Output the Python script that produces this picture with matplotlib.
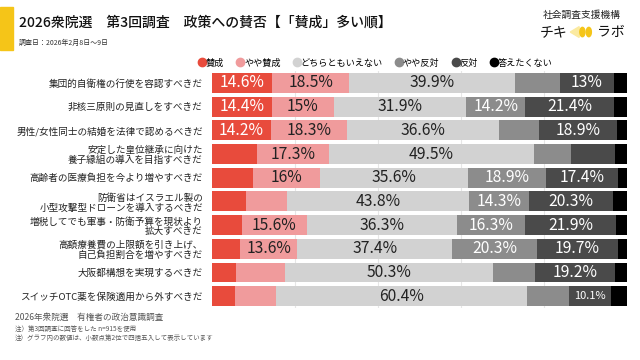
import matplotlib
matplotlib.use('Agg')
import matplotlib.pyplot as plt
from matplotlib.lines import Line2D
from matplotlib.patches import Rectangle, Ellipse, Polygon

plt.rcParams['font.family'] = ['Noto Sans CJK JP', 'DejaVu Sans']

# 政策（上から「賛成」多い順）
policies = [
    '集団的自衛権の行使を容認すべきだ',
    '非核三原則の見直しをすべきだ',
    '男性/女性同士の結婚を法律で認めるべきだ',
    '安定した皇位継承に向けた\n養子縁組の導入を目指すべきだ',
    '高齢者の医療負担を今より増やすべきだ',
    '防衛省はイスラエル製の\n小型攻撃型ドローンを導入するべきだ',
    '増税してでも軍事・防衛予算を現状より\n拡大すべきだ',
    '高額療養費の上限額を引き上げ、\n自己負担割合を増やすべきだ',
    '大阪都構想を実現するべきだ',
    'スイッチOTC薬を保険適用から外すべきだ',
]
categories = ['賛成', 'やや賛成', 'どちらともいえない', 'やや反対', '反対', '答えたくない']

agree = [14.6, 14.4, 14.2, 10.8, 10.0, 8.2, 7.2, 6.9, 5.8, 5.6]
some_agree = [18.5, 15.0, 18.3, 17.3, 16.0, 10.0, 15.6, 13.6, 11.7, 9.8]
neutral = [39.9, 31.9, 36.6, 49.5, 35.6, 43.8, 36.3, 37.4, 50.3, 60.4]
some_disagree = [10.8, 14.2, 9.6, 8.9, 18.9, 14.3, 16.3, 20.3, 10.1, 10.2]
disagree = [13.0, 21.4, 18.9, 10.5, 17.4, 20.3, 21.9, 19.7, 19.2, 10.1]
no_answer = [3.2, 3.1, 2.4, 3.0, 2.1, 3.4, 2.7, 2.1, 2.9, 3.9]

# グラフ内に数値を表示するセル（1=表示）
show_agree = [1, 1, 1, 0, 0, 0, 0, 0, 0, 0]
show_some_agree = [1, 1, 1, 1, 1, 0, 1, 1, 0, 0]
show_neutral = [1, 1, 1, 1, 1, 1, 1, 1, 1, 1]
show_some_disagree = [0, 1, 0, 0, 1, 1, 1, 1, 0, 0]
show_disagree = [1, 1, 1, 0, 1, 1, 1, 1, 1, 1]

colors = ['#e84b3c', '#f09b9c', '#d2d2d2', '#8c8c8c', '#4a4a4a', '#000000']
text_colors = ['white', '#222222', '#222222', 'white', 'white']

series = [agree, some_agree, neutral, some_disagree, disagree, no_answer]
shows = [show_agree, show_some_agree, show_neutral, show_some_disagree, show_disagree]

fig = plt.figure(figsize=(6.4, 3.6), dpi=100)
ax = fig.add_axes([0.331, 0.1444, 0.649, 0.658])

y = list(range(len(policies)))
left = [0.0] * len(policies)
for s, vals in enumerate(series):
    ax.barh(y, vals, left=left, height=0.84, color=colors[s], zorder=2)
    if s < len(shows):
        for i, v in enumerate(vals):
            if shows[s][i]:
                fs = 8 if (s == 4 and v < 10.5) else 11.3
                ax.text(left[i] + v / 2, i, '%g%%' % v, ha='center', va='center',
                        color=text_colors[s], fontsize=fs, zorder=3)
    left = [l + v for l, v in zip(left, vals)]

ax.set_xlim(0, 100)
ax.set_ylim(len(policies) - 0.5, -0.5)
ax.set_yticks(y)
ax.set_yticklabels(policies, fontsize=6.9, linespacing=1.1, color='#222222')
ax.tick_params(axis='y', length=0, pad=6.5)
ax.set_xticks([20, 40, 60, 80])
ax.tick_params(axis='x', length=0, labelbottom=False)
ax.grid(axis='x', color='#e6e6e6', linewidth=0.8, zorder=0)
for sp in ax.spines.values():
    sp.set_visible(False)

# 凡例
handles = [Line2D([0], [0], marker='o', linestyle='none', markersize=6,
                  markerfacecolor=c, markeredgecolor=c) for c in colors]
fig.legend(handles, categories, loc='center', bbox_to_anchor=(0.586, 0.825),
           ncol=6, frameon=False, fontsize=6.6, handletextpad=-0.1,
           columnspacing=1.3, handlelength=1.0)

# タイトル
fig.patches.append(Rectangle((0, 0.861), 0.021, 0.12, transform=fig.transFigure,
                             color='#f5c518', figure=fig))
fig.text(0.03, 0.938, '2026衆院選　第3回調査　政策への賛否【「賛成」多い順】',
         fontsize=10, fontweight='medium', color='#111111', va='center')
fig.text(0.03, 0.882, '調査日：2026年2月8日～9日', fontsize=5, color='#333333', va='center')

# ロゴ
fig.text(0.909, 0.958, '社会調査支援機構', fontsize=7, ha='center', va='center', color='#222222')
fig.text(0.843, 0.911, 'チキ', fontsize=10, ha='left', va='center', color='#111111')
fig.patches.append(Polygon([(0.891, 0.911), (0.905, 0.926), (0.905, 0.896)], closed=True,
                           transform=fig.transFigure, color='#fbeaa0', figure=fig))
fig.patches.append(Ellipse((0.910, 0.911), 0.008, 0.026, transform=fig.transFigure,
                           color='#f5c518', figure=fig))
fig.patches.append(Ellipse((0.920, 0.911), 0.008, 0.026, transform=fig.transFigure,
                           color='#f5c518', figure=fig))
fig.text(0.933, 0.911, 'ラボ', fontsize=10, ha='left', va='center', color='#111111')

# 出典・注記
fig.text(0.023, 0.117, '2026年衆院選　有権者の政治意識調査', fontsize=6.2, color='#555555', va='center')
fig.text(0.023, 0.086, '注）第3回調査に回答をした n=915を使用', fontsize=4.7, color='#555555', va='center')
fig.text(0.023, 0.061, '注）グラフ内の数値は、小数点第2位で四捨五入して表示しています', fontsize=4.7,
         color='#555555', va='center')

fig.savefig('out.png', dpi=100)
